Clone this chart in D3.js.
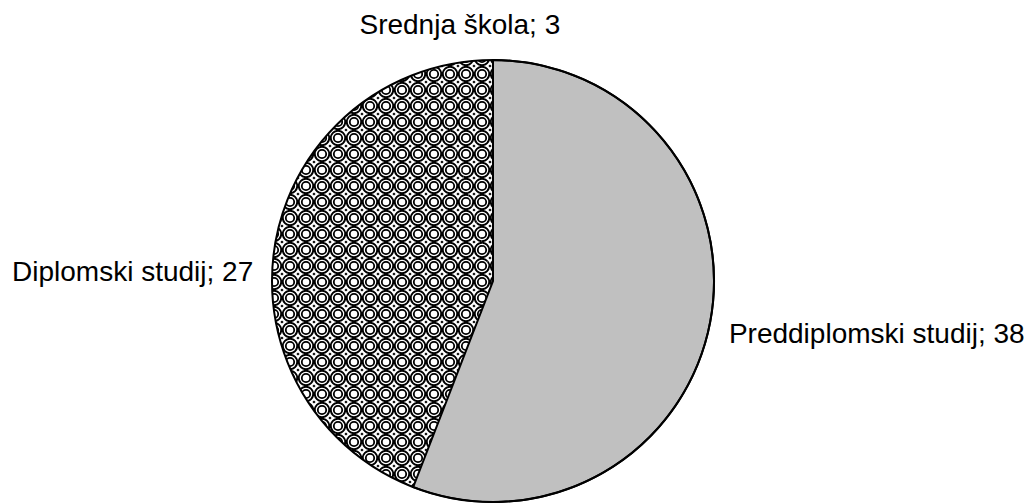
<!DOCTYPE html>
<html>
<head>
<meta charset="utf-8">
<script src="https://cdn.jsdelivr.net/npm/d3@7"></script>
<style>
  body { margin: 0; background: #fff; }
  text { font-family: "Liberation Sans", Arial, sans-serif; font-size: 28px; fill: #000; }
</style>
</head>
<body>
<div id="chart"></div>
<script>
// data
var categories = ["Preddiplomski studij", "Diplomski studij", "Srednja škola"];
var values = [38, 27, 3];
var fills = ["#c0c0c0", "url(#rings)", "url(#rings)"];

var w_svg = 1029, h_svg = 503;
var cx = 493, cy = 281, radius = 221;

var mydata = categories.map(function(c, i) { return { name: c, value: values[i], fill: fills[i] }; });

var svg = d3.select("#chart")
  .append("svg")
  .attr("width", w_svg)
  .attr("height", h_svg);

// ring pattern like the excel fill
var pat = svg.append("defs").append("pattern")
  .attr("id", "rings")
  .attr("patternUnits", "userSpaceOnUse")
  .attr("width", 16).attr("height", 16)
  .attr("x", cx).attr("y", cy);
pat.append("rect").attr("width", 16).attr("height", 16).attr("fill", "#fff");
pat.append("circle").attr("cx", 8).attr("cy", 8).attr("r", 7.2)
  .attr("fill", "none").attr("stroke", "#000").attr("stroke-width", 1.9);
pat.append("circle").attr("cx", 8).attr("cy", 8).attr("r", 4.2)
  .attr("fill", "none").attr("stroke", "#000").attr("stroke-width", 1.8);
[[0, 0], [16, 0], [0, 16], [16, 16]].forEach(function(p) {
  pat.append("path")
    .attr("d", "M" + (p[0] - 1.6) + "," + p[1] + "L" + p[0] + "," + (p[1] - 1.6) + "L" + (p[0] + 1.6) + "," + p[1] + "L" + p[0] + "," + (p[1] + 1.6) + "Z")
    .attr("fill", "#000");
});

var pie = d3.pie().sort(null).value(function(d) { return d.value; });
var arcs = pie(mydata);
var arc = d3.arc().innerRadius(0).outerRadius(radius);

var g = svg.append("g").attr("transform", "translate(" + cx + "," + cy + ")");

g.selectAll("path.slice")
  .data(arcs)
  .enter()
  .append("path")
  .attr("class", "slice")
  .attr("d", arc)
  .style("fill", function(d) { return d.data.fill; })
  .style("stroke", "none");

// outlines: grey slice edges and the outer rim
g.append("path")
  .attr("d", arc(arcs[0]))
  .style("fill", "none")
  .style("stroke", "#000")
  .style("stroke-width", "2px");
g.append("circle")
  .attr("r", radius)
  .style("fill", "none")
  .style("stroke", "#000")
  .style("stroke-width", "2px");

// labels
var labelR = 240;
function mid(d) { return (d.startAngle + d.endAngle) / 2; }
g.selectAll("text")
  .data(arcs)
  .enter()
  .append("text")
  .attr("x", function(d) { return labelR * Math.sin(mid(d)); })
  .attr("y", function(d) { return -(labelR + 30) * Math.cos(mid(d)); })
  .attr("dy", function(d) { return Math.cos(mid(d)) > 0.6 ? "0.72em" : "0.45em"; })
  .attr("text-anchor", function(d) {
    var s = Math.sin(mid(d));
    return s > 0.5 ? "start" : (s < -0.5 ? "end" : "middle");
  })
  .text(function(d) { return d.data.name + "; " + d.data.value; });
</script>
</body>
</html>
